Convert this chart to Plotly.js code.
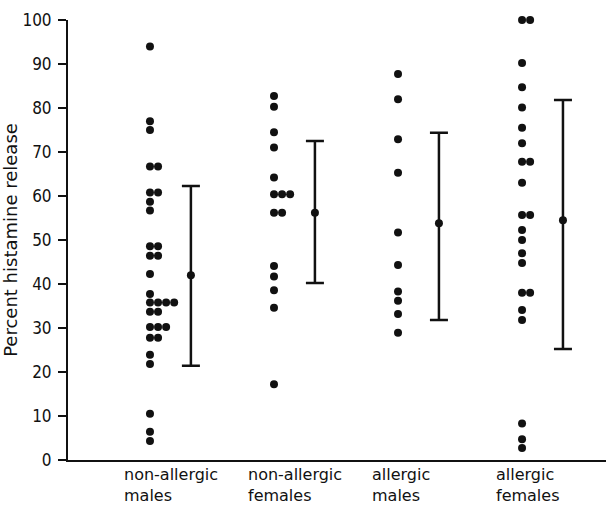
<!DOCTYPE html>
<html>
<head>
<meta charset="utf-8">
<script src="https://cdn.plot.ly/plotly-3.0.1.min.js"></script>
<style>html,body{margin:0;padding:0;background:#fff;}#chart{width:606px;height:506px;}</style>
</head>
<body>
<div id="chart"></div>
<script>
// Category labels
var categories = ["non-allergic<br>males", "non-allergic<br>females", "allergic<br>males", "allergic<br>females"];

// Individual observations (percent histamine release), one array per group
var nonAllergicMales = [94, 77, 75, 66.7, 66.7, 60.8, 60.8, 58.7, 56.7, 48.6, 48.6, 46.4, 46.4, 42.3, 37.7,
  35.8, 35.8, 35.8, 35.8, 33.7, 33.7, 30.2, 30.2, 30.2, 27.8, 27.8, 23.9, 21.8, 10.5, 6.4, 4.3];
var nonAllergicFemales = [82.7, 80.3, 74.5, 71.0, 64.2, 60.4, 60.4, 60.4, 56.2, 56.2, 44.1, 41.7, 38.6, 34.6, 17.2];
var allergicMales = [87.7, 82.0, 72.9, 65.3, 51.7, 44.3, 38.3, 36.2, 33.2, 28.9];
var allergicFemales = [100, 100, 90.2, 84.7, 80.1, 75.5, 72.0, 67.8, 67.8, 63.0, 55.7, 55.7, 52.3, 50.0, 47.0,
  44.8, 38.0, 38.0, 34.1, 31.8, 8.3, 4.7, 2.7];

// Group means and range bars
var means = [42.0, 56.2, 53.8, 54.5];
var upper = [62.3, 72.5, 74.4, 81.8];
var lower = [21.4, 40.2, 31.8, 25.2];

var groups = [nonAllergicMales, nonAllergicFemales, allergicMales, allergicFemales];
var dotStep = 0.065;   // horizontal offset for repeated values
var barOffset = 0.33;  // error bar placed right of the dots

var traces = [];
groups.forEach(function (vals, gi) {
  var xs = [], ys = [], seen = {};
  vals.forEach(function (v) {
    var k = seen[v] || 0;
    seen[v] = k + 1;
    xs.push(gi + 1 + k * dotStep);
    ys.push(v);
  });
  traces.push({
    type: "scatter", mode: "markers", x: xs, y: ys, cliponaxis: false,
    marker: { color: "#111", size: 8 }, hoverinfo: "y", showlegend: false
  });
});

traces.push({
  type: "scatter", mode: "markers",
  x: means.map(function (m, i) { return i + 1 + barOffset; }),
  y: means, cliponaxis: false,
  marker: { color: "#111", size: 8 },
  error_y: {
    type: "data", symmetric: false,
    array: upper.map(function (u, i) { return u - means[i]; }),
    arrayminus: lower.map(function (l, i) { return means[i] - l; }),
    color: "#111", thickness: 2.5, width: 9
  },
  showlegend: false
});

var annotations = categories.map(function (c, i) {
  return {
    text: c, x: i + 0.775, xref: "x", xanchor: "left", align: "left",
    y: -0.006, yref: "paper", yanchor: "top", showarrow: false,
    font: { family: "DejaVu Sans, sans-serif", size: 16, color: "#111" }
  };
});

var layout = {
  width: 606, height: 506,
  margin: { l: 68, r: 0, t: 20, b: 46 },
  paper_bgcolor: "#fff", plot_bgcolor: "#fff",
  xaxis: {
    range: [0.339, 4.677], showgrid: false, zeroline: false, showticklabels: false,
    ticks: "", showline: true, linecolor: "#111", linewidth: 1.5
  },
  yaxis: {
    range: [0, 100], tickmode: "array",
    tickvals: [0, 10, 20, 30, 40, 50, 60, 70, 80, 90, 100],
    ticks: "outside", ticklen: 8, tickwidth: 1.5, tickcolor: "#111",
    showgrid: false, zeroline: false, showline: true, linecolor: "#111", linewidth: 2,
    ticklabelstandoff: 3,
    tickfont: { family: "Liberation Sans Narrow, DejaVu Sans Condensed, sans-serif", size: 17, color: "#111" },
    title: { text: "Percent histamine release", standoff: 5,
      font: { family: "DejaVu Sans, sans-serif", size: 18, color: "#111" } }
  },
  annotations: annotations,
  showlegend: false
};

Plotly.newPlot("chart", traces, layout, { displayModeBar: false, staticPlot: true });
</script>
</body>
</html>
